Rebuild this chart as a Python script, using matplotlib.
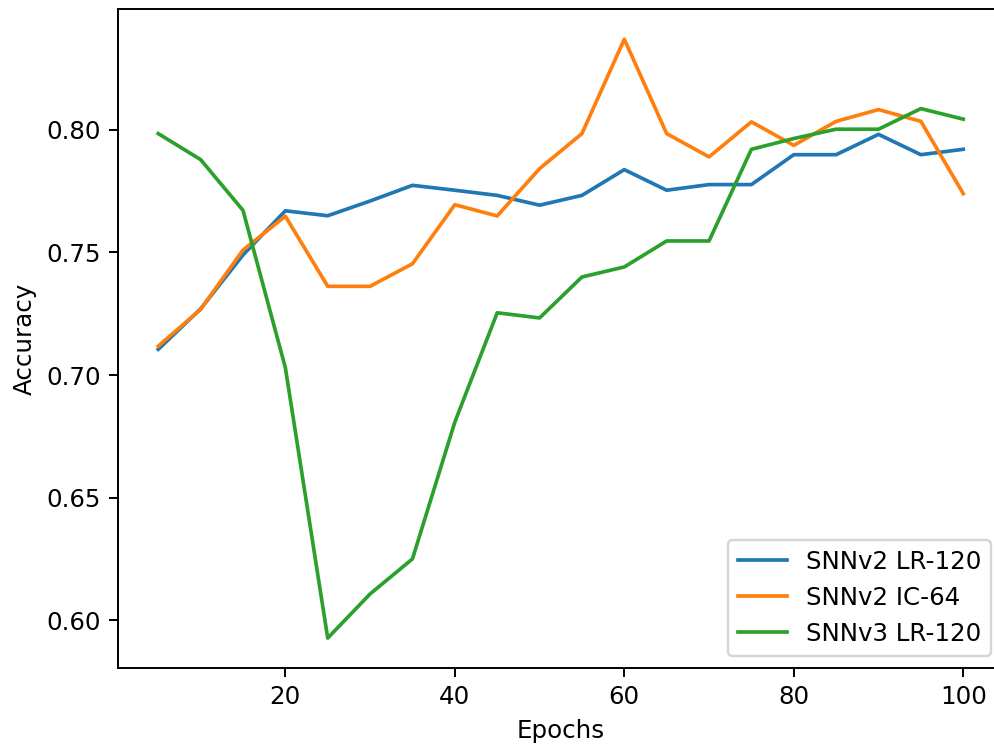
import numpy as np
import matplotlib
matplotlib.use('Agg')
import matplotlib.pyplot as plt

epochs = list(range(5, 105, 5))
snnv2_lr120 = [0.7105, 0.727, 0.749, 0.767, 0.765, 0.771, 0.7774, 0.7754, 0.7733, 0.7693,
               0.7733, 0.7838, 0.7754, 0.7777, 0.7777, 0.7899, 0.7899, 0.7982, 0.7899, 0.7921]
snnv2_ic64 = [0.7118, 0.7268, 0.751, 0.7648, 0.7362, 0.7362, 0.7454, 0.7695, 0.7649, 0.7842,
              0.7985, 0.837, 0.7985, 0.789, 0.8033, 0.7937, 0.8035, 0.8083, 0.8035, 0.774]
snnv3_lr120 = [0.7985, 0.7879, 0.7672, 0.703, 0.5927, 0.6107, 0.625, 0.6808, 0.7254, 0.7233,
               0.740, 0.7441, 0.7547, 0.7547, 0.7921, 0.7965, 0.8003, 0.8003, 0.8087, 0.8044]

dpi = 176
fig = plt.figure(figsize=(994 / dpi, 745 / dpi), dpi=dpi)
# right spine falls just outside the image, as in the original crop
ax = fig.add_axes([118 / 994, 1 - 668 / 745, (1003.5 - 118) / 994, (668 - 9.3) / 745])
ax.plot(epochs, snnv2_lr120, label='SNNv2 LR-120')
ax.plot(epochs, snnv2_ic64, label='SNNv2 IC-64')
ax.plot(epochs, snnv3_lr120, label='SNNv3 LR-120')
ax.set_xlabel('Epochs')
ax.set_ylabel('Accuracy')
ax.legend(loc='lower right')
fig.savefig('out.png', dpi=dpi)
